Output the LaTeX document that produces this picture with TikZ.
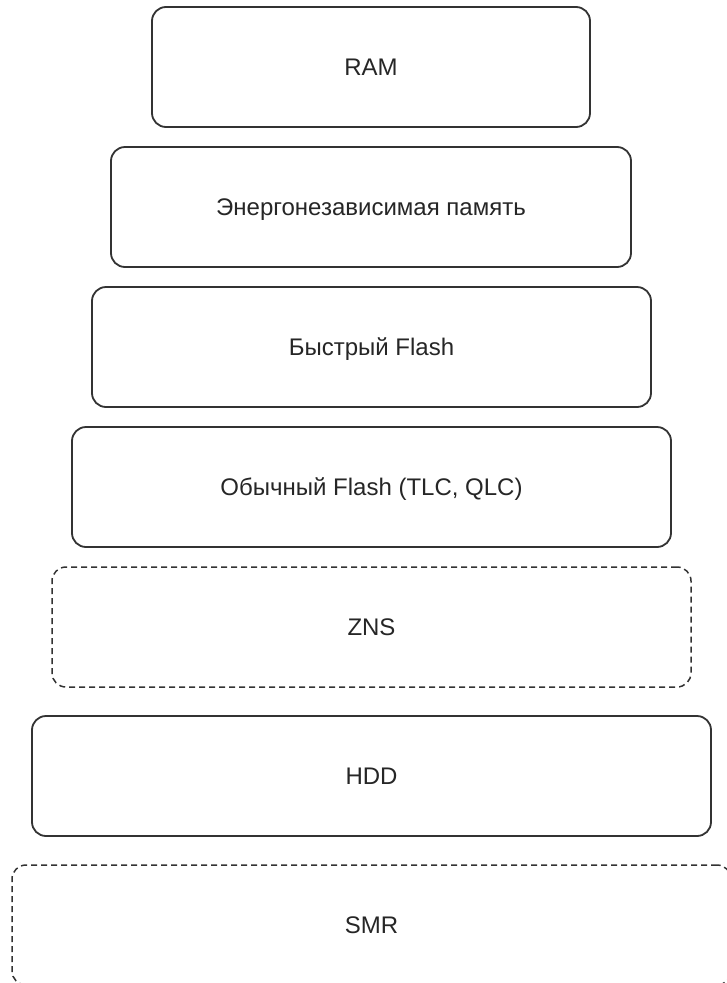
\documentclass[tikz,border=0pt]{standalone}
\usepackage{fontspec}
\setmainfont{Liberation Sans}
\begin{document}
\begin{tikzpicture}[x=1pt,y=-1pt,font=\fontsize{24pt}{28pt}\selectfont]
  \tikzset{
    layer/.style={draw=black!80,line width=1.8pt,rounded corners=14pt,
      minimum height=120pt,align=center,fill=white,text=black!85,
      text height=17pt,text depth=0pt},
    optional/.style={layer,dashed,dash pattern=on 6pt off 4pt,
      line width=1.5pt}
  }
  \useasboundingbox (0,0) rectangle (726,983);

  \node[layer,minimum width=438pt] (ram) at (371,67) {RAM};
  \node[layer,minimum width=520pt] (nvm) at (371,207)
    {Энергонезависимая память};
  \node[layer,minimum width=559pt] (fastflash) at (371.5,347)
    {Быстрый Flash};
  \node[layer,minimum width=599pt] (flash) at (371.5,487)
    {Обычный Flash (TLC, QLC)};
  \node[optional,minimum width=639pt] (zns) at (371.5,627) {ZNS};
  \node[layer,minimum width=679pt] (hdd) at (371.5,776) {HDD};
  \node[optional,minimum width=719pt] (smr) at (371.5,925) {SMR};
\end{tikzpicture}
\end{document}
